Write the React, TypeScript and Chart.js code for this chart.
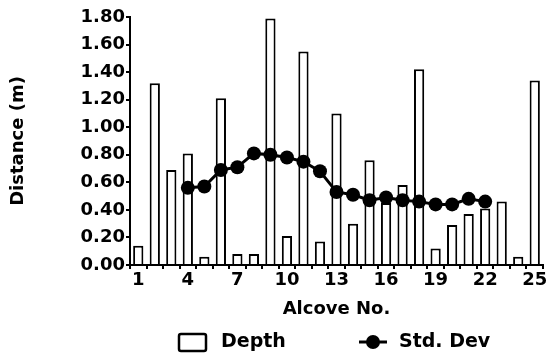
import React, { useEffect, useRef } from "react";
import { Chart, registerables } from "chart.js";

Chart.register(...registerables);

const categories = ["1","2","3","4","5","6","7","8","9","10","11","12","13","14","15","16","17","18","19","20","21","22","23","24","25"];
const depth = [0.14, 1.32, 0.69, 0.81, 0.06, 1.21, 0.08, 0.08, 1.79, 0.21, 1.55, 0.17, 1.10, 0.30, 0.76, 0.45, 0.58, 1.42, 0.12, 0.29, 0.37, 0.41, 0.46, 0.06, 1.34];
const stdDev = [null, null, null, 0.56, 0.57, 0.69, 0.71, 0.81, 0.80, 0.78, 0.75, 0.68, 0.53, 0.51, 0.47, 0.49, 0.47, 0.46, 0.44, 0.44, 0.48, 0.46, null, null, null];
const seriesLabels = ["Depth", "Std. Dev"];
const xTitle = "Alcove No.";
const yTitle = "Distance (m)";

const FONT = "'DejaVu Sans', sans-serif";

const legendPlugin = {
  id: "customLegend",
  afterDraw(chart: any) {
    const ctx = chart.ctx;
    const ds = chart.data.datasets;
    const cy = 342;
    ctx.save();
    ctx.strokeStyle = "#000";
    ctx.fillStyle = "#000";
    ctx.lineWidth = 2.5;
    ctx.beginPath();
    ctx.roundRect(179, 334, 27, 17, 2);
    ctx.stroke();
    ctx.font = "bold 19px " + FONT;
    ctx.textBaseline = "middle";
    ctx.textAlign = "left";
    ctx.fillText(ds[0].label, 221, cy);
    ctx.lineWidth = 3;
    ctx.beginPath();
    ctx.moveTo(359, cy);
    ctx.lineTo(387, cy);
    ctx.stroke();
    ctx.beginPath();
    ctx.arc(373, cy, 7, 0, Math.PI * 2);
    ctx.fill();
    ctx.fillText(ds[1].label, 399, cy);
    ctx.restore();
  },
};

export default function App() {
  const ref = useRef<HTMLCanvasElement>(null);
  useEffect(() => {
    if (!ref.current) return;
    const chart = new Chart(ref.current, {
      type: "bar",
      data: {
        labels: categories,
        datasets: [
          {
            type: "bar",
            label: seriesLabels[0],
            data: depth,
            backgroundColor: "#fff",
            borderColor: "#000",
            borderWidth: 2,
            barPercentage: 0.62,
            categoryPercentage: 1,
            order: 2,
          },
          {
            type: "line",
            label: seriesLabels[1],
            data: stdDev as any,
            borderColor: "#000",
            backgroundColor: "#000",
            borderWidth: 3,
            pointRadius: 7,
            pointBorderWidth: 0,
            pointBackgroundColor: "#000",
            pointBorderColor: "#000",
            spanGaps: false,
            order: 1,
          } as any,
        ],
      },
      options: {
        animation: false,
        responsive: false,
        maintainAspectRatio: false,
        layout: { padding: { left: 4, right: 5, top: 17, bottom: 33 } },
        plugins: {
          legend: { display: false },
          tooltip: { enabled: false },
        },
        scales: {
          x: {
            type: "category",
            offset: true,
            border: { display: true, color: "#000", width: 2 },
            grid: { display: true, drawOnChartArea: false, tickLength: 4, color: "#000", lineWidth: 2, offset: true },
            ticks: {
              color: "#000",
              font: { family: FONT, size: 18, weight: "bold" },
              autoSkip: false,
              maxRotation: 0,
              padding: 1,
              callback: (_v: any, i: number) => (i % 3 === 0 ? categories[i] : ""),
            },
            title: {
              display: true,
              text: xTitle,
              color: "#000",
              font: { family: FONT, size: 18, weight: "bold" },
              padding: { top: 4, bottom: 4 },
            },
            afterFit: (scale: any) => {
              scale.height = 59;
            },
          },
          y: {
            min: 0,
            max: 1.8,
            border: { display: true, color: "#000", width: 2 },
            grid: { display: true, drawOnChartArea: false, tickLength: 4, color: "#000", lineWidth: 2 },
            ticks: {
              stepSize: 0.2,
              color: "#000",
              padding: 1,
              font: { family: FONT, size: 18, weight: "bold" },
              callback: (v: any) => Number(v).toFixed(2),
            },
            title: {
              display: true,
              text: yTitle,
              color: "#000",
              font: { family: FONT, size: 18, weight: "bold" },
              padding: { top: 4, bottom: 4 },
            },
            afterFit: (scale: any) => {
              scale.width = 126;
            },
          },
        },
      },
      plugins: [legendPlugin],
    });
    return () => chart.destroy();
  }, []);
  return (
    <div style={{ position: "fixed", left: 0, top: 0, width: 550, height: 357, background: "#fff" }}>
      <canvas ref={ref} width={550} height={357} style={{ width: 550, height: 357, display: "block" }} />
    </div>
  );
}
